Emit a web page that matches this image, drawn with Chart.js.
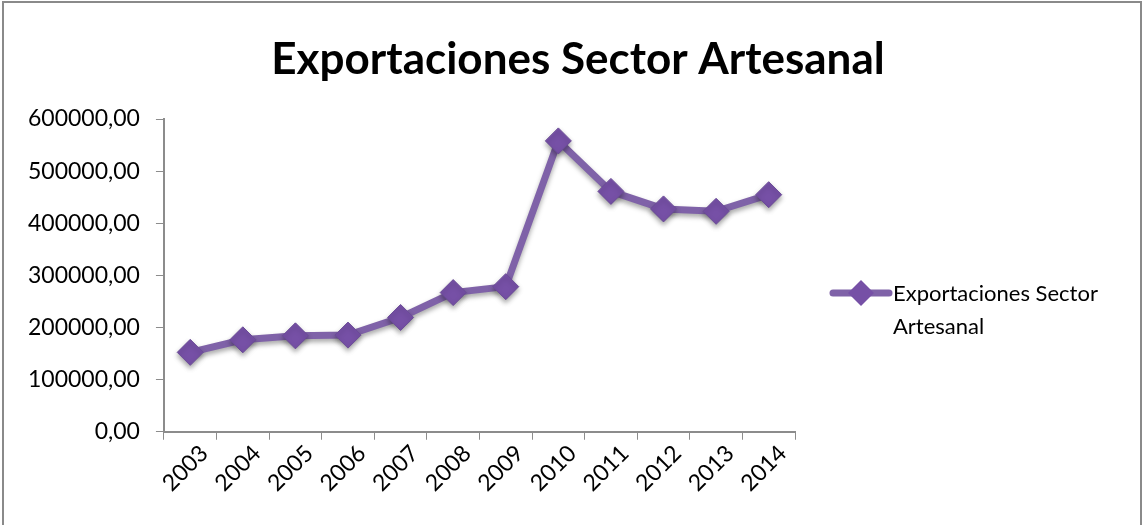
<!DOCTYPE html>
<html>
<head>
<meta charset="utf-8">
<script src="https://cdn.jsdelivr.net/npm/chart.js@4"></script>
<style>
  html, body { margin: 0; padding: 0; background: #fff; }
  #wrap { position: relative; width: 1144px; height: 525px; }
</style>
</head>
<body>
<div id="wrap"><canvas id="exportChart" width="1144" height="525"></canvas></div>
<script>
const years = ["2003","2004","2005","2006","2007","2008","2009","2010","2011","2012","2013","2014"];
const exportValues = [152300, 176400, 184000, 185400, 219200, 267000, 278400, 558000, 461100, 427500, 422900, 454800];
const yTicks = [0, 100000, 200000, 300000, 400000, 500000, 600000];
const seriesName = "Exportaciones Sector Artesanal";

const purple = "#7f62a8";
const markerFill = "#7650a6";
const axisGray = "#8c8c8c";
const fontName = "Lato, 'Open Sans', sans-serif";

// frame, title centred on the whole picture, shadow on the series
const framePlugin = {
  id: "frame",
  beforeDraw(chart){
    const c = chart.ctx;
    c.save();
    c.fillStyle = "#fff";
    c.fillRect(0, 0, chart.width, chart.height);
    c.strokeStyle = "#8a8a8a";
    c.lineWidth = 2;
    c.strokeRect(3, 2, chart.width - 6, chart.height + 10);
    c.fillStyle = "#000";
    c.font = "bold 44px " + fontName;
    c.textAlign = "center";
    c.textBaseline = "middle";
    c.fillText(seriesName, 578, 60);
    c.restore();
  },
  beforeDatasetDraw(chart){
    const c = chart.ctx;
    c.save();
    c.shadowColor = "rgba(0,0,0,0.35)";
    c.shadowBlur = 5;
    c.shadowOffsetY = 3;
  },
  afterDatasetDraw(chart){
    chart.ctx.restore();
  }
};

// legend on the right, wrapped on two lines like the original
const sideLegend = {
  id: "sideLegend",
  afterDraw(chart){
    const c = chart.ctx;
    const x0 = 833, y0 = 293;
    c.save();
    c.strokeStyle = purple;
    c.lineWidth = 7;
    c.lineCap = "round";
    c.beginPath();
    c.moveTo(x0, y0);
    c.lineTo(x0 + 56, y0);
    c.stroke();
    const cx = x0 + 28, r = 13;
    c.fillStyle = markerFill;
    c.beginPath();
    c.moveTo(cx, y0 - r);
    c.lineTo(cx + r, y0);
    c.lineTo(cx, y0 + r);
    c.lineTo(cx - r, y0);
    c.closePath();
    c.fill();
    c.fillStyle = "#000";
    c.font = "22px " + fontName;
    c.textBaseline = "middle";
    c.textAlign = "left";
    const words = seriesName.split(" ");
    c.fillText(words.slice(0, 2).join(" "), 893, y0 + 1);
    c.fillText(words.slice(2).join(" "), 893, y0 + 34);
    c.restore();
  }
};

new Chart(document.getElementById("exportChart").getContext("2d"), {
  type: "line",
  data: {
    labels: years,
    datasets: [{
      label: seriesName,
      data: exportValues,
      borderColor: purple,
      borderWidth: 7,
      backgroundColor: markerFill,
      pointStyle: "rectRot",
      pointRadius: 13,
      pointHoverRadius: 13,
      pointBackgroundColor: markerFill,
      pointBorderColor: "#6b4b98",
      pointBorderWidth: 1,
      tension: 0
    }]
  },
  options: {
    responsive: false,
    animation: false,
    layout: { padding: { left: 12, right: 349, top: 119, bottom: 28 } },
    plugins: {
      legend: { display: false },
      tooltip: { enabled: false },
      title: { display: false }
    },
    scales: {
      x: {
        offset: true,
        afterFit(scale){ scale.paddingLeft = 0; scale.paddingRight = 0; },
        grid: { display: true, drawOnChartArea: false, drawTicks: true, tickLength: 8, offset: true, color: axisGray },
        border: { display: true, color: axisGray, width: 2 },
        ticks: {
          color: "#000",
          font: { family: fontName, size: 23 },
          minRotation: 45,
          maxRotation: 45,
          labelOffset: 14,
          padding: 0
        }
      },
      y: {
        min: 0,
        max: 600000,
        afterBuildTicks(axis){ axis.ticks = yTicks.map(v => ({ value: v })); },
        grid: { display: true, drawOnChartArea: false, drawTicks: true, tickLength: 8, color: axisGray },
        border: { display: true, color: axisGray, width: 2 },
        ticks: {
          color: "#000",
          font: { family: fontName, size: 23 },
          padding: 16,
          callback: v => v.toFixed(2).replace(".", ",")
        }
      }
    }
  },
  plugins: [framePlugin, sideLegend]
});
</script>
</body>
</html>
